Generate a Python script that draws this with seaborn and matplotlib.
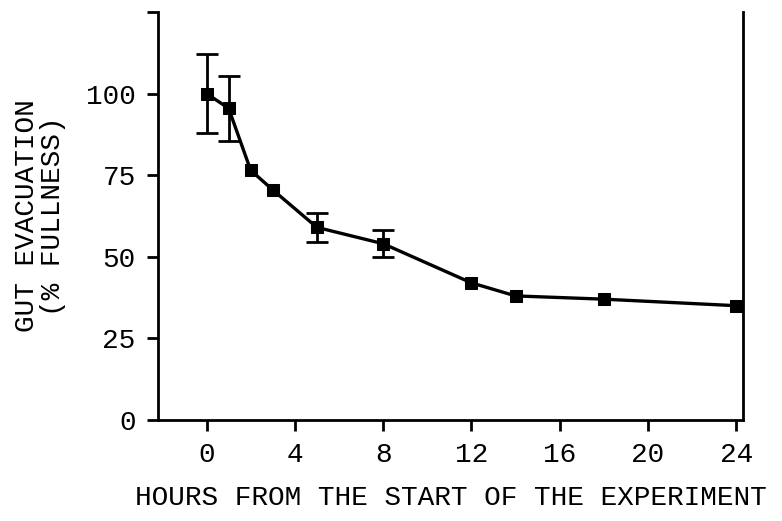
#!/usr/bin/env python3
# Gut evacuation over time — recreated line chart with error bars

import matplotlib
matplotlib.use("Agg")
import matplotlib.pyplot as plt
import pandas as pd
import seaborn as sns

# ── Data ──────────────────────────────────────
hours = [0, 1, 2, 3, 5, 8, 12, 14, 18, 24]
fullness = [100, 95.5, 76.5, 70.5, 59, 54, 42, 38, 37, 35]

err_hours = [0, 1, 5, 8]
err_mean = [100, 95.5, 59, 54]
err_size = [12, 10, 4.5, 4.2]

x_ticks = [0, 4, 8, 12, 16, 20, 24]
y_ticks = [0, 25, 50, 75, 100, 125]
y_tick_labels = ["0", "25", "50", "75", "100", ""]

# ── Plot ──────────────────────────────────────
sns.set_theme(style="ticks")
plt.rcParams["font.family"] = ["Liberation Mono", "DejaVu Sans Mono"]

fig = plt.figure(figsize=(7.82, 5.21), dpi=100)
ax = fig.add_axes([0.202, 0.194, 0.748, 0.783])

df = pd.DataFrame({"hours": hours, "fullness": fullness})

ax.errorbar(err_hours, err_mean, yerr=err_size, fmt="none",
            ecolor="black", elinewidth=2, capsize=8, capthick=2, zorder=2)
sns.lineplot(data=df, x="hours", y="fullness", ax=ax, color="black",
             linewidth=2.4, marker="s", markersize=9,
             markeredgecolor="black", markerfacecolor="black", zorder=3)

ax.set_xlim(-2.2, 24.3)
ax.set_ylim(0, 125)
ax.set_xticks(x_ticks)
ax.set_yticks(y_ticks)
ax.set_yticklabels(y_tick_labels)

ax.spines["top"].set_visible(False)
for side in ("left", "bottom", "right"):
    ax.spines[side].set_linewidth(2)
    ax.spines[side].set_color("black")

ax.tick_params(axis="both", direction="out", length=8, width=2,
               colors="black", labelsize=20, pad=8)

ax.set_xlabel("HOURS FROM THE START OF THE EXPERIMENT", fontsize=20,
              labelpad=12, color="black")
ax.set_ylabel("GUT EVACUATION\n(% FULLNESS)", fontsize=20,
              labelpad=14, color="black", linespacing=1.0)

fig.savefig("out.png", dpi=100)
plt.close(fig)
